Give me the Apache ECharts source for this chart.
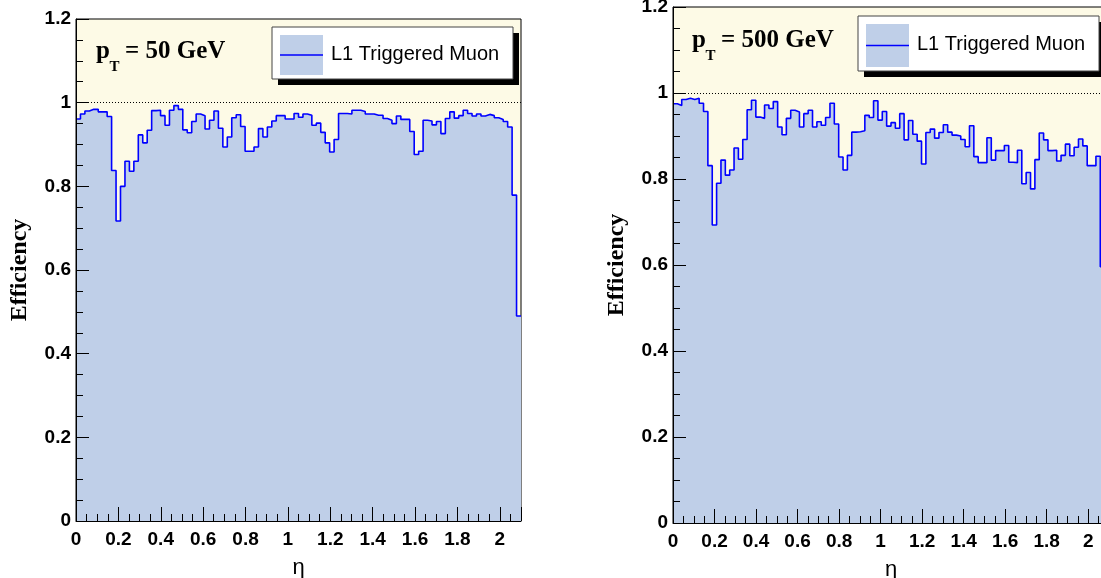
<!DOCTYPE html>
<html>
<head>
<meta charset="utf-8">
<title>L1 Triggered Muon efficiency vs eta</title>
<script src="https://cdn.jsdelivr.net/npm/echarts@6/dist/echarts.min.js"></script>
<style>
    html, body { margin: 0; padding: 0; background: #fff; }
    #chart { width: 1101px; height: 578px; }
</style>
</head>
<body>
<div id="chart"></div>
<script>
'use strict';

// histogram binning: 100 bins in |eta| from 0 to 2.1
var etaLow = 0;
var etaHigh = 2.1;

// efficiency per eta bin, pT = 50 GeV
var effPt50 = [
    0.961, 0.973, 0.980, 0.984, 0.984, 0.978, 0.978, 0.967, 0.838, 0.717,
    0.800, 0.860, 0.836, 0.860, 0.923, 0.904, 0.934, 0.981, 0.982, 0.969,
    0.946, 0.982, 0.993, 0.984, 0.935, 0.928, 0.955, 0.973, 0.969, 0.937,
    0.958, 0.980, 0.939, 0.894, 0.918, 0.964, 0.971, 0.943, 0.884, 0.884,
    0.894, 0.938, 0.918, 0.942, 0.956, 0.969, 0.969, 0.961, 0.961, 0.974,
    0.965, 0.973, 0.970, 0.946, 0.951, 0.929, 0.904, 0.882, 0.912, 0.974,
    0.974, 0.973, 0.982, 0.982, 0.979, 0.973, 0.973, 0.970, 0.970, 0.962,
    0.958, 0.950, 0.968, 0.960, 0.960, 0.931, 0.876, 0.884, 0.958, 0.956,
    0.947, 0.955, 0.926, 0.962, 0.978, 0.963, 0.969, 0.982, 0.974, 0.968,
    0.973, 0.968, 0.972, 0.969, 0.964, 0.960, 0.955, 0.942, 0.779, 0.490
];

// efficiency per eta bin, pT = 500 GeV
var effPt500 = [
    0.975, 0.971, 0.985, 0.988, 0.985, 0.988, 0.976, 0.957, 0.831, 0.693,
    0.790, 0.844, 0.809, 0.821, 0.872, 0.846, 0.892, 0.961, 0.983, 0.944,
    0.941, 0.972, 0.964, 0.980, 0.921, 0.903, 0.941, 0.960, 0.956, 0.921,
    0.952, 0.960, 0.921, 0.933, 0.925, 0.943, 0.976, 0.928, 0.851, 0.821,
    0.855, 0.909, 0.910, 0.912, 0.948, 0.943, 0.982, 0.937, 0.957, 0.923,
    0.931, 0.918, 0.952, 0.891, 0.936, 0.904, 0.888, 0.835, 0.908, 0.916,
    0.895, 0.908, 0.926, 0.909, 0.902, 0.900, 0.892, 0.875, 0.924, 0.852,
    0.838, 0.838, 0.896, 0.844, 0.866, 0.866, 0.878, 0.839, 0.838, 0.867,
    0.789, 0.815, 0.777, 0.845, 0.907, 0.891, 0.866, 0.867, 0.842, 0.855,
    0.881, 0.854, 0.874, 0.893, 0.877, 0.831, 0.831, 0.853, 0.596, 0.550
];

var ptLabels = ['= 50 GeV', '= 500 GeV'];
var legendText = 'L1 Triggered Muon';
var xName = '\u03b7';
var yName = 'Efficiency';

var FILL = '#bfcfe8';
var LINE = '#0000ff';
var FRAME_BG = '#fdfae6';
var SANS = 'Liberation Sans';
var SERIF = 'Liberation Serif';

// layout of the two pads
var pads = [
    { grid: { left: 76, top: 19, width: 445, height: 502 },
      box: { x: 272, y: 27, w: 241, h: 52 }, pt: { x: 96, y: 51.5, subY: 67.5 } },
    { grid: { left: 673, top: 7, width: 436, height: 516 },
      box: { x: 858, y: 16, w: 241, h: 55 }, pt: { x: 692, y: 41, subY: 56 } }
];

function histPoints(vals) {
    var w = (etaHigh - etaLow) / vals.length;
    var pts = [];
    for (var i = 0; i < vals.length; i++) {
        pts.push([etaLow + i * w, vals[i]]);
    }
    pts.push([etaHigh, vals[vals.length - 1]]);
    return pts;
}

function makeXAxis(idx) {
    return {
        type: 'value', gridIndex: idx, min: etaLow, max: etaHigh, interval: 0.2, zlevel: 1,
        name: xName, nameLocation: 'middle', nameGap: 36,
        nameTextStyle: { fontFamily: SANS, fontSize: 22, color: '#000' },
        axisLine: { onZero: false, lineStyle: { color: '#000', width: 1 } },
        axisTick: { inside: true, length: 14, lineStyle: { color: '#000' } },
        minorTick: { show: true, splitNumber: 4, length: 7, lineStyle: { color: '#000' } },
        splitLine: { show: false },
        axisLabel: { showMaxLabel: false, margin: 9, fontFamily: SANS, fontWeight: 'bold', fontSize: 19, color: '#000' }
    };
}

function makeYAxis(idx) {
    return {
        type: 'value', gridIndex: idx, min: 0, max: 1.2, interval: 0.2, zlevel: 1,
        name: yName, nameLocation: 'middle', nameGap: 44, nameRotate: 90,
        nameTextStyle: { fontFamily: SERIF, fontWeight: 'bold', fontSize: 24, color: '#000' },
        axisLine: { onZero: false, lineStyle: { color: '#000', width: 1 } },
        axisTick: { inside: true, length: 13, lineStyle: { color: '#000' } },
        minorTick: { show: true, splitNumber: 4, length: 7, lineStyle: { color: '#000' } },
        splitLine: { show: false },
        axisLabel: { margin: 5, fontFamily: SANS, fontWeight: 'bold', fontSize: 19, color: '#000' }
    };
}

function makeSeries(idx, vals) {
    return {
        type: 'line', xAxisIndex: idx, yAxisIndex: idx,
        data: histPoints(vals), step: 'end', symbol: 'none', animation: false,
        lineStyle: { color: LINE, width: 1.6 },
        areaStyle: { color: FILL, opacity: 1 },
        markLine: {
            silent: true, symbol: 'none', label: { show: false }, animation: false,
            lineStyle: { color: '#000', type: [1, 2], width: 1 },
            data: [{ yAxis: 1 }]
        }
    };
}

function padGraphics(pad, label) {
    var b = pad.box, p = pad.pt;
    var symY = b.y + 8, symH = b.h - 12;
    var mid = symY + symH / 2;
    return [
        { type: 'rect', shape: { x: b.x + 6, y: b.y + 6, width: b.w, height: b.h }, style: { fill: '#000' }, z: 20 },
        { type: 'rect', shape: { x: b.x, y: b.y, width: b.w, height: b.h }, style: { fill: '#fff', stroke: '#444', lineWidth: 1 }, z: 21 },
        { type: 'rect', shape: { x: b.x + 8, y: symY, width: 43, height: symH }, style: { fill: FILL }, z: 22 },
        { type: 'line', shape: { x1: b.x + 8, y1: mid, x2: b.x + 51, y2: mid }, style: { stroke: LINE, lineWidth: 1.5 }, z: 23 },
        { type: 'text', x: b.x + 59, y: mid - 1, z: 23,
          style: { text: legendText, font: '20px ' + SANS, fill: '#000', verticalAlign: 'middle' } },
        { type: 'text', x: p.x, y: p.y, z: 23,
          style: { text: 'p', font: 'bold 25px ' + SERIF, fill: '#000', verticalAlign: 'middle' } },
        { type: 'text', x: p.x + 13.5, y: p.subY, z: 23,
          style: { text: 'T', font: 'bold 15px ' + SERIF, fill: '#000', verticalAlign: 'middle' } },
        { type: 'text', x: p.x + 29, y: p.y, z: 23,
          style: { text: label, font: 'bold 25px ' + SERIF, fill: '#000', verticalAlign: 'middle' } }
    ];
}

var chart = echarts.init(document.getElementById('chart'), null, { renderer: 'canvas' });

var grids = pads.map(function (pad) {
    return {
        left: pad.grid.left, top: pad.grid.top, width: pad.grid.width, height: pad.grid.height,
        outerBoundsMode: 'none', containLabel: false,
        show: true, backgroundColor: FRAME_BG, borderColor: '#000', borderWidth: 1
    };
});

chart.setOption({
    backgroundColor: '#fff',
    animation: false,
    grid: grids,
    xAxis: [makeXAxis(0), makeXAxis(1)],
    yAxis: [makeYAxis(0), makeYAxis(1)],
    series: [makeSeries(0, effPt50), makeSeries(1, effPt500)],
    graphic: padGraphics(pads[0], ptLabels[0]).concat(padGraphics(pads[1], ptLabels[1]))
});
</script>
</body>
</html>
